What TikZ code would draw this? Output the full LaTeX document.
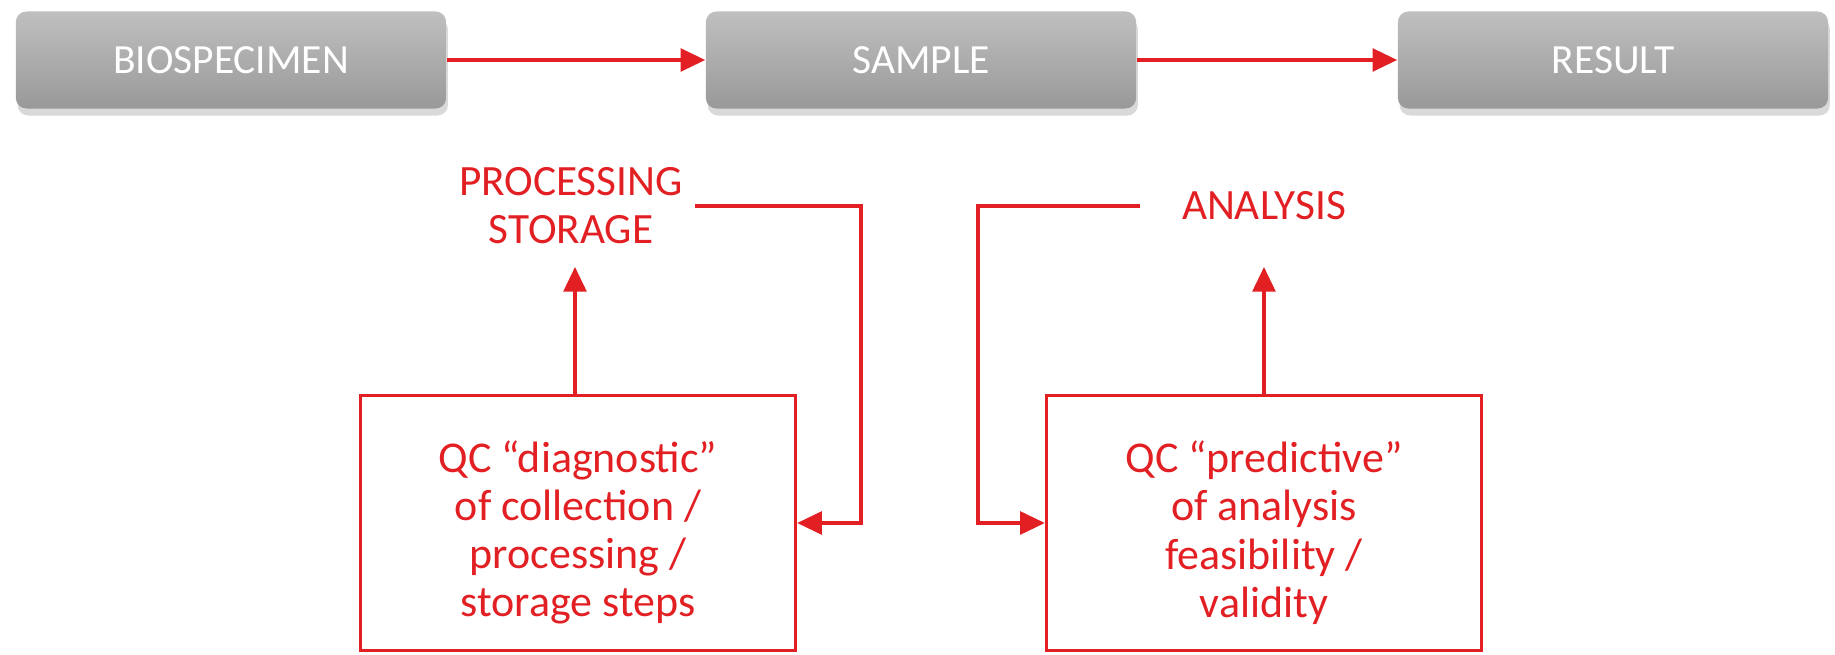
\documentclass[tikz,border=0pt]{standalone}
\usepackage{fontspec}
\setmainfont{Carlito}
\usetikzlibrary{arrows.meta,shadows}
\definecolor{qcred}{RGB}{226,32,36}
\newcommand{\qcpad}{\rule{0pt}{14.5pt}}
\tikzset{
  stage/.style={rounded corners=3pt, top color=black!25, bottom color=black!40,
    drop shadow={opacity=0.3, shadow xshift=0.5pt, shadow yshift=-2pt},
    text=white, font=\fontsize{11.8}{13}\selectfont,
    minimum width=4.3cm, minimum height=0.97cm},
  tasktext/.style={text=qcred, align=center, font=\fontsize{12.3}{13.7}\selectfont},
  qcbox/.style={draw=qcred, line width=0.9pt, text=qcred, align=center,
    font=\fontsize{12.5}{13.7}\selectfont,
    minimum width=4.35cm, minimum height=2.55cm},
  flow/.style={draw=qcred, line width=0.9pt, -{Triangle[length=7pt,width=6.5pt]}}
}
\begin{document}
\begin{tikzpicture}[x=0.01cm,y=-0.01cm]
      \useasboundingbox (0,0) rectangle (1835,655);
      \draw
        (231,60) node[stage] (bio){BIOSPECIMEN}
        (921,60) node[stage] (sample){SAMPLE}
        (1613,60) node[stage] (result){RESULT}
        (571,206) node[tasktext] (proc){PROCESSING\\STORAGE}
        (1264,206) node[tasktext] (analysis){ANALYSIS}
        (578,523) node[qcbox] (qcdiag){\qcpad QC “diagnostic”\\of collection /\\processing /\\storage steps}
        (1264,523) node[qcbox] (qcpred){\qcpad QC “predictive”\\of analysis\\feasibility /\\validity};
      \coordinate (procin) at (575,267);
      \coordinate (analin) at (1264,267);
      \coordinate (loopL) at (861,523);
      \coordinate (loopR) at (978,523);
      \begin{scope}[flow]
        \draw (bio) to (sample);
        \draw (sample) to (result);
        \draw (qcdiag.north -| procin) to (procin);
        \draw (qcpred.north) to (analin);
        \draw (proc.east) -| (loopL) -- (qcdiag.east);
        \draw[shorten <=0.3cm] (analysis.west) -| (loopR) -- (qcpred.west);
      \end{scope}
    \end{tikzpicture}
\end{document}
